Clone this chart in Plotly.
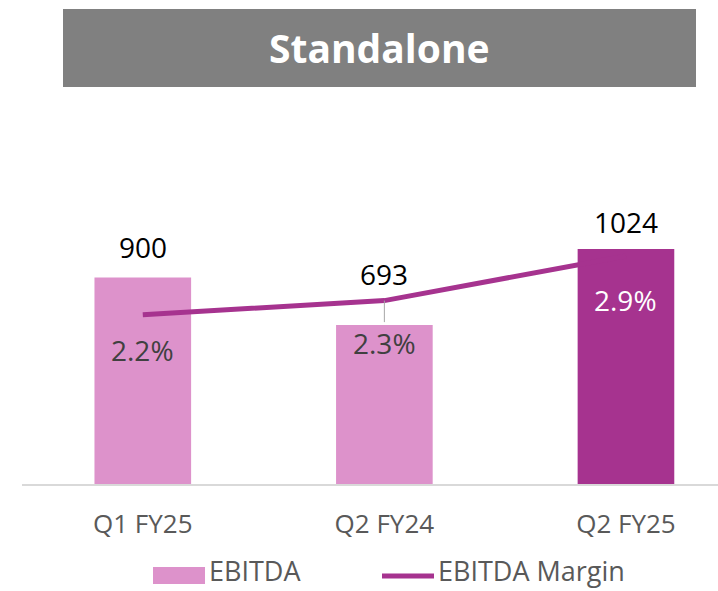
import plotly.graph_objects as go

categories = ["Q1 FY25", "Q2 FY24", "Q2 FY25"]
ebitda = [900, 693, 1024]
ebitda_margin = [2.16, 2.34, 2.91]
margin_labels = ["2.2%", "2.3%", "2.9%"]
bar_colors = ["#DD92CB", "#DD92CB", "#A6338F"]

LINE_COLOR = "#A6338F"
FONT = "Open Sans"
TEXT_GREY = "#595959"

fig = go.Figure()
fig.add_trace(go.Bar(
    x=categories, y=ebitda, name="EBITDA",
    marker=dict(color=bar_colors, line=dict(width=0)),
    width=0.4, yaxis="y", showlegend=False, hoverinfo="skip",
))
fig.add_trace(go.Scatter(
    x=categories, y=ebitda_margin, name="EBITDA Margin", mode="lines",
    line=dict(color=LINE_COLOR, width=5), yaxis="y2",
    showlegend=False, hoverinfo="skip",
))

annotations = []
bar_label_shift = [30, 51, 27]
for c, v, s in zip(categories, ebitda, bar_label_shift):
    annotations.append(dict(
        x=c, y=v, xref="x", yref="y", text=str(v), showarrow=False,
        yshift=s, yanchor="middle",
        font=dict(family=FONT, size=28, color="#000000"),
    ))

pct_colors = ["#404040", "#404040", "#FFFFFF"]
pct_shift = [35, 42, 44]
for i, (c, v, t) in enumerate(zip(categories, ebitda_margin, margin_labels)):
    if i == 1:
        annotations.append(dict(
            x=c, y=v, xref="x", yref="y2", text=t, showarrow=True,
            ax=0, ay=pct_shift[i], arrowhead=0, arrowwidth=1,
            arrowcolor="#A6A6A6", standoff=0,
            font=dict(family=FONT, size=28, color=pct_colors[i]),
        ))
    else:
        annotations.append(dict(
            x=c, y=v, xref="x", yref="y2", text=t, showarrow=False,
            yshift=-pct_shift[i], yanchor="middle",
            font=dict(family=FONT, size=28, color=pct_colors[i]),
        ))

W, H = 718, 591
L, R, T, B = 22, 0, 100, 107
pw, ph = W - L - R, H - T - B
def px(xp):
    return (xp - L) / pw
def py(yp):
    return (H - B - yp) / ph

shapes = [
    dict(type="rect", xref="paper", yref="paper",
         x0=px(63), x1=px(696), y0=py(87), y1=py(9),
         fillcolor="#808080", line=dict(width=0), layer="below"),
    dict(type="rect", xref="paper", yref="paper",
         x0=px(153), x1=px(205), y0=py(584), y1=py(567),
         fillcolor="#DD92CB", line=dict(width=0)),
    dict(type="line", xref="paper", yref="paper",
         x0=px(382), x1=px(434), y0=py(576), y1=py(576),
         line=dict(color=LINE_COLOR, width=5)),
]
annotations.append(dict(
    x=px(379), y=py(48), xref="paper", yref="paper", text="<b>Standalone</b>",
    showarrow=False, xanchor="center", yanchor="middle",
    font=dict(family=FONT, size=39, color="#FFFFFF"),
))
annotations.append(dict(
    x=px(207), y=py(591), xref="paper", yref="paper", text="EBITDA",
    showarrow=False, xanchor="left", yanchor="bottom",
    font=dict(family=FONT, size=27, color=TEXT_GREY),
))
annotations.append(dict(
    x=px(436), y=py(591), xref="paper", yref="paper", text="EBITDA Margin",
    showarrow=False, xanchor="left", yanchor="bottom",
    font=dict(family=FONT, size=27, color=TEXT_GREY),
))

fig.update_layout(
    width=W, height=H,
    margin=dict(l=L, r=R, t=T, b=B),
    paper_bgcolor="white", plot_bgcolor="white",
    showlegend=False,
    bargap=0.6,
    xaxis=dict(
        range=[-0.5, 2.381], showgrid=False, zeroline=False,
        showline=True, linecolor="#D9D9D9", linewidth=1.5,
        ticks="", tickfont=dict(family=FONT, size=26, color=TEXT_GREY),
        ticklabelstandoff=16,
    ),
    yaxis=dict(range=[0, 1673], visible=False, showgrid=False, zeroline=False),
    yaxis2=dict(range=[0, 4.9], overlaying="y", side="right", visible=False,
                showgrid=False, zeroline=False),
    annotations=annotations,
    shapes=shapes,
)

fig.write_html(
    "out.html",
    config={"displayModeBar": False},
    post_script="document.body.style.margin='0px';document.body.style.padding='0px';",
)
